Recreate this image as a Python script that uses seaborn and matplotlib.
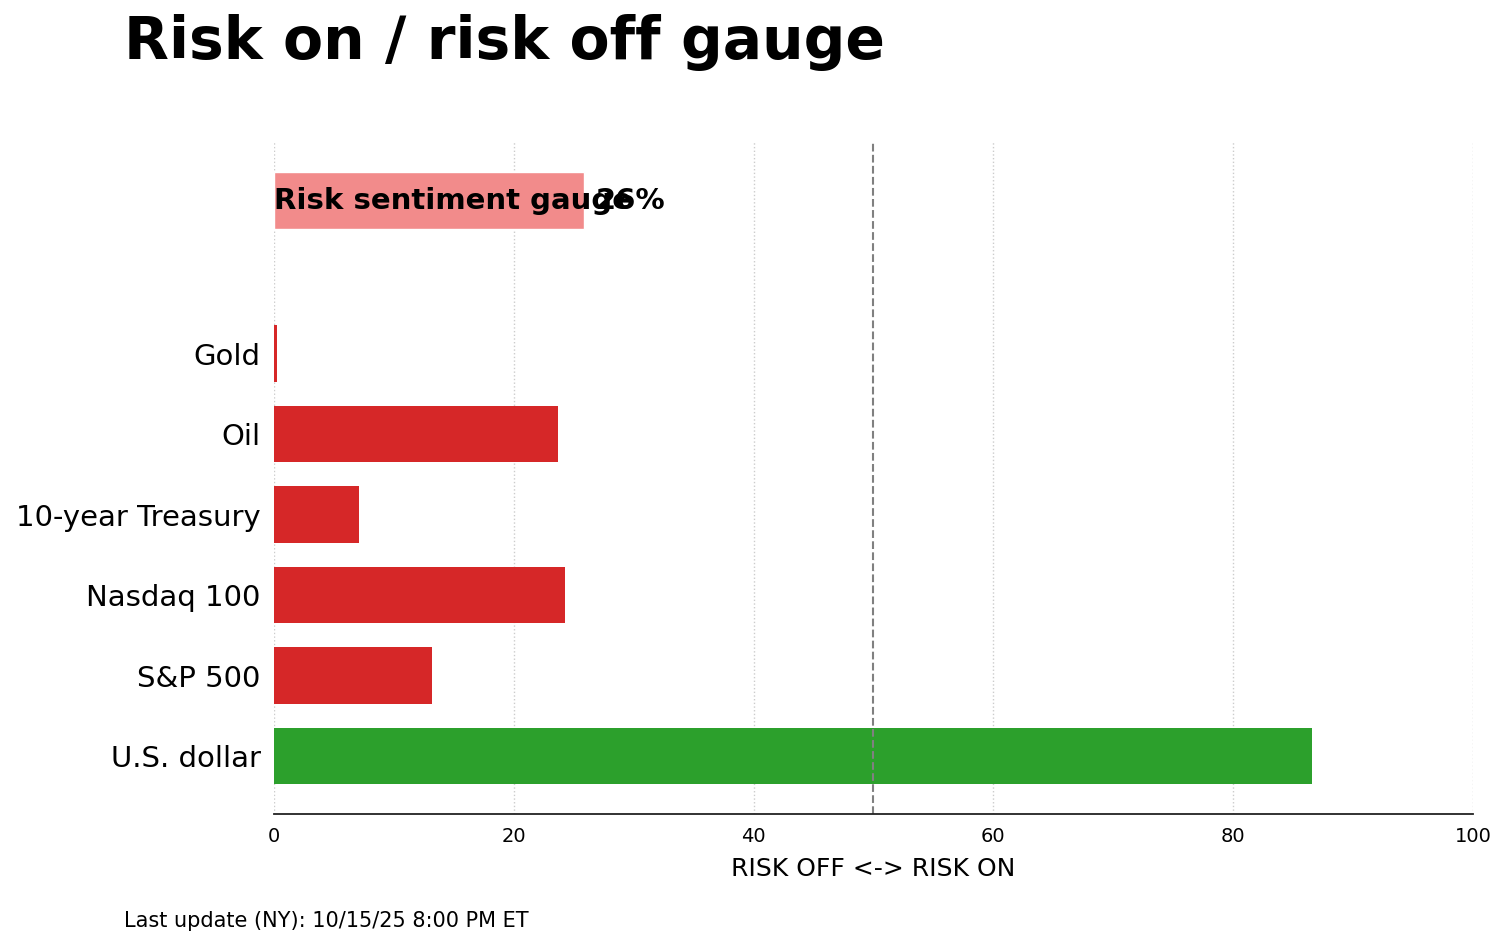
import matplotlib
matplotlib.use("Agg")
import matplotlib.pyplot as plt
import seaborn as sns
import pandas as pd

sns.set_style("white")
plt.rcParams["font.family"] = ["DejaVu Sans"]
plt.rcParams["text.color"] = "black"
plt.rcParams["axes.labelcolor"] = "black"
plt.rcParams["xtick.color"] = "black"
plt.rcParams["ytick.color"] = "black"

# values (0 = risk off, 100 = risk on)
assets = ["Gold", "Oil", "10-year Treasury", "Nasdaq 100", "S&P 500", "U.S. dollar"]
scores = [0.25, 23.7, 7.1, 24.3, 13.2, 86.6]
gauge_label = "Risk sentiment gauge"
gauge_value = 25.85
title = "Risk on / risk off gauge"
footnote = "Last update (NY): 10/15/25 8:00 PM ET"

RED = "#D62728"
GREEN = "#2CA02C"


def main():
    df = pd.DataFrame({"asset": assets, "score": scores})
    colors = [GREEN if s > 50 else RED for s in df["score"]]

    fig, ax = plt.subplots(figsize=(15.09, 9.46), dpi=100)
    fig.subplots_adjust(left=0.1816, right=0.9761, bottom=0.1395, top=0.85)

    sns.barplot(data=df, x="score", y="asset", hue="asset", order=assets,
                palette=colors, legend=False, orient="h", width=0.7,
                saturation=1, linewidth=0, ax=ax)

    # overall gauge bar sits above the assets
    gauge_y = -1.9
    ax.barh(gauge_y, gauge_value, height=0.7, color="#F28B8B")
    ax.text(0, gauge_y, gauge_label, ha="left", va="center",
            fontsize=21, fontweight="bold")
    ax.text(gauge_value + 1, gauge_y, f"{gauge_value:.0f}%", ha="left",
            va="center", fontsize=21, fontweight="bold")

    ax.axvline(50, color="gray", linestyle="--", linewidth=1.5)

    ax.set_xlim(0, 100)
    ax.set_ylim(5.72, -2.63)
    ax.set_xlabel("RISK OFF <-> RISK ON", fontsize=18, labelpad=8)
    ax.set_ylabel("")
    ax.grid(axis="x", linestyle=":", color="#cccccc", linewidth=1)
    ax.set_axisbelow(True)

    sns.despine(ax=ax, left=True)
    ax.spines["bottom"].set_color("#222222")
    ax.spines["bottom"].set_linewidth(1.3)
    ax.tick_params(axis="x", labelsize=14, length=6, width=1.3, color="#222222")
    ax.tick_params(axis="y", labelsize=21, length=6, width=1.3, color="#222222")

    fig.text(0.082, 0.955, title, fontsize=42, fontweight="bold",
             ha="left", va="center")
    fig.text(0.082, 0.026, footnote, fontsize=15, ha="left", va="center")

    plt.savefig("out.png", dpi=100)
    plt.close()


if __name__ == "__main__":
    main()
